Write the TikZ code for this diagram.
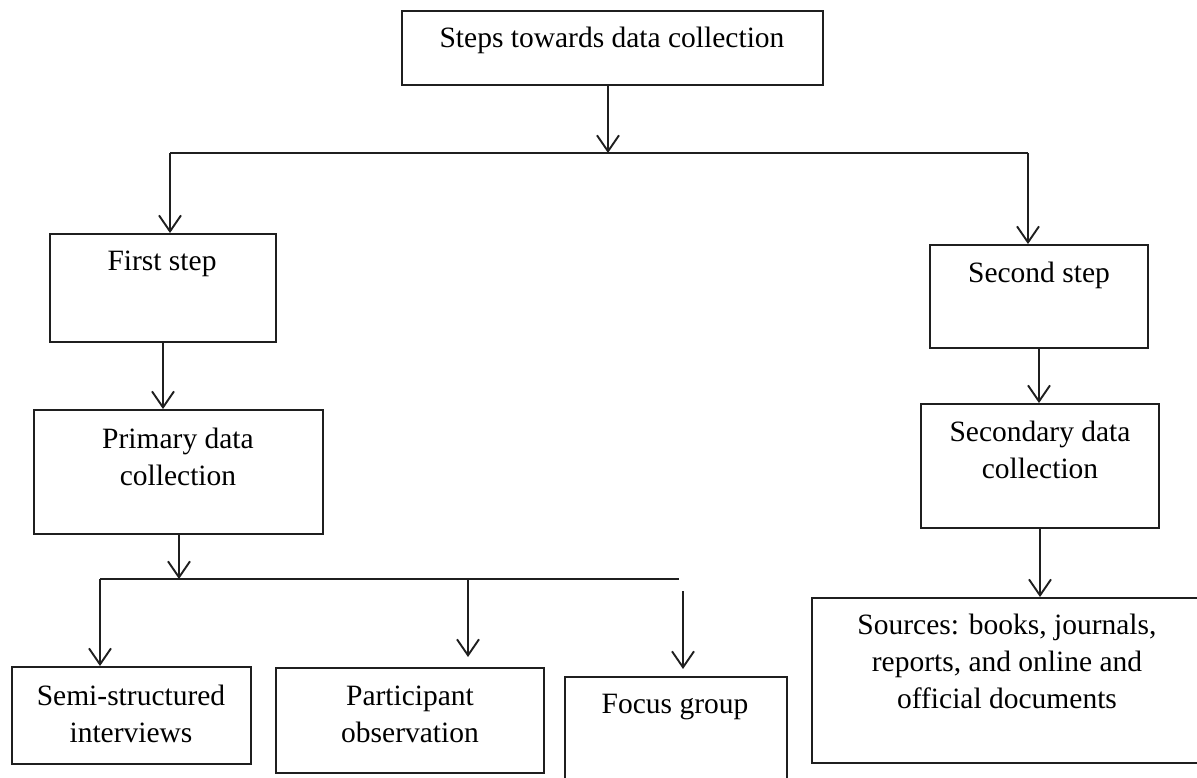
\documentclass[tikz,border=0pt]{standalone}
\usepackage{fontspec}
\setmainfont{Liberation Serif}
\usetikzlibrary{arrows.meta}
\begin{document}
\begin{tikzpicture}[x=1pt,y=-1pt,
  line width=1.9pt,
  box/.style={draw=black!88, rectangle, inner sep=0pt},
  txt/.style={anchor=base, align=center, inner sep=0pt,
    font=\fontsize{29.5}{37}\selectfont},
  arr/.style={draw=black!88, -{Straight Barb[length=16pt,width=22pt,line width=1.9pt]}},
  bus/.style={draw=black!88}]
\useasboundingbox (0,0) rectangle (1197,778);
\clip (0,0) rectangle (1197,778);

% boxes
\node[box, minimum width=421, minimum height=74]  (top)     at (612.5,48)   {};
\node[box, minimum width=226, minimum height=108] (first)   at (163,288)    {};
\node[box, minimum width=218, minimum height=103] (second)  at (1039,296.5) {};
\node[box, minimum width=289, minimum height=124] (primary) at (178.5,472)  {};
\node[box, minimum width=238, minimum height=124] (secondary) at (1040,466) {};
\node[box, minimum width=239, minimum height=97]  (semi)    at (131.5,715.5){};
\node[box, minimum width=268, minimum height=105] (partic)  at (410,720.5)  {};
\node[box, minimum width=222, minimum height=112] (focus)   at (676,733)    {};
\node[box, minimum width=396, minimum height=165] (sources) at (1010,680.5) {};

% labels (anchored on the baseline of the last line)
\node[txt] (ttop)  at (612,48)  {Steps towards data collection};
\node[txt] (tfirst) at (162,270) {First step};
\node[txt] (tsecond) at (1039,282) {Second step};
\node[txt] (tprim) at (178,485) {Primary data\\collection};
\node[txt] (tsec)  at (1040,478) {Secondary data\\collection};
\node[txt] (tsemi) at (131,742) {Semi-structured\\interviews};
\node[txt] (tpart) at (410,742) {Participant\\observation};
\node[txt] (tfoc)  at (675,713) {Focus group};
\node[txt] (tsrc)  at (1007,708) {Sources: books, journals,\\reports, and online and\\official documents};

% junction points
\coordinate (busM)  at (608,153);
\coordinate (busL)  at (170,153);
\coordinate (busR)  at (1028,153);
\coordinate (pbusM) at (179,579);
\coordinate (pbusL) at (100,579);
\coordinate (pbusP) at (468,579);
\coordinate (pbusE) at (679,579);
\coordinate (partTip) at (468,657);
\coordinate (focTail) at (683,591);
\coordinate (focTip)  at (683,669);

% connectors
\draw[bus] (busL) -- (busR);
\draw[arr] (top.south -| busM) -- (busM);
\draw[arr] (busL) -- (busL |- first.north);
\draw[arr] (busR) -- (busR |- second.north);
\draw[arr] (first.south) -- (first.south |- primary.north);
\draw[arr] (second.south) -- (second.south |- secondary.north);
\draw[arr] (secondary.south) -- (secondary.south |- sources.north);
\draw[arr] (primary.south -| pbusM) -- (pbusM);
\draw[bus] (pbusL) -- (pbusE);
\draw[arr] (pbusL) -- (pbusL |- semi.north);
\draw[arr] (pbusP) -- (partTip);
\draw[arr] (focTail) -- (focTip);
\end{tikzpicture}
\end{document}
